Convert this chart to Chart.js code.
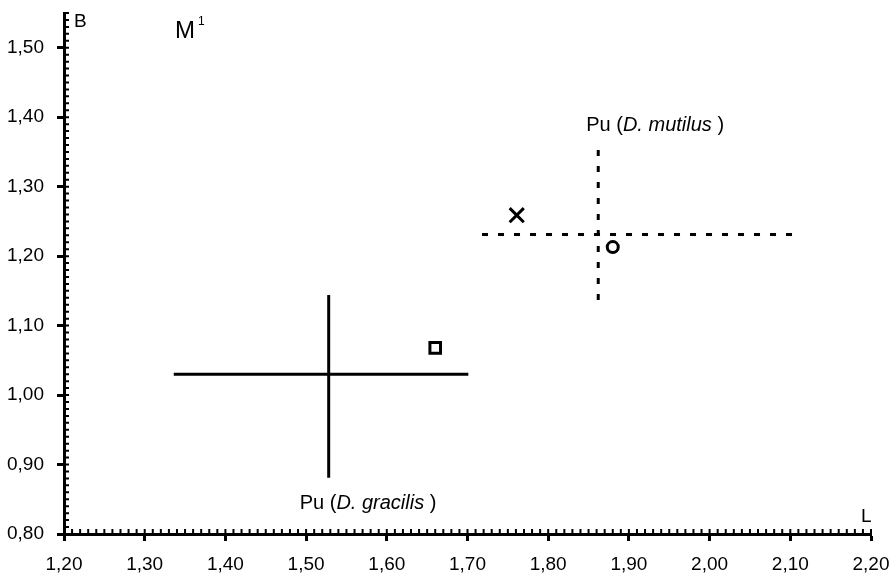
<!DOCTYPE html>
<html>
<head>
<meta charset="utf-8">
<script src="https://cdn.jsdelivr.net/npm/chart.js@4.4.1/dist/chart.umd.min.js"></script>
<style>
  body { margin: 0; background: #fff; }
  #wrap { width: 894px; height: 575px; }
</style>
</head>
<body>
<div id="wrap"><canvas id="m1"></canvas></div>
<script>
// ranges of the two reference samples (L = length, B = breadth)
var crossNames = ["D. gracilis", "D. mutilus"];
var crossMeanL = [1.528, 1.862];
var crossMeanB = [1.030, 1.231];
var crossMinL = [1.336, 1.718];
var crossMaxL = [1.701, 2.108];
var crossMinB = [0.881, 1.137];
var crossMaxB = [1.144, 1.364];

// single specimens: square, x, circle
var pointL = [1.660, 1.761, 1.880];
var pointB = [1.068, 1.259, 1.213];

var xTicks = [1.2, 1.3, 1.4, 1.5, 1.6, 1.7, 1.8, 1.9, 2.0, 2.1, 2.2];
var yTicks = [0.8, 0.9, 1.0, 1.1, 1.2, 1.3, 1.4, 1.5];

var FONT = "'Liberation Sans', Arial, Helvetica, sans-serif";
var crossDash = [[], [6, 10]];

var datasets = [];
for (var i = 0; i < crossNames.length; i++) {
  datasets.push({
    data: [{x: crossMinL[i], y: crossMeanB[i]}, {x: crossMaxL[i], y: crossMeanB[i]}],
    showLine: true, borderColor: "#000", borderWidth: 3, borderDash: crossDash[i],
    borderCapStyle: "butt", pointRadius: 0
  });
  datasets.push({
    data: [{x: crossMeanL[i], y: crossMinB[i]}, {x: crossMeanL[i], y: crossMaxB[i]}],
    showLine: true, borderColor: "#000", borderWidth: 3, borderDash: crossDash[i],
    borderCapStyle: "butt", pointRadius: 0
  });
}
datasets.push({
  data: pointL.map(function (l, k) { return {x: l, y: pointB[k]}; }),
  showLine: false,
  pointStyle: ["rect", "crossRot", "circle"],
  pointRadius: [7.5, 10, 5.5],
  pointBorderWidth: 3,
  pointBorderColor: "#000",
  pointBackgroundColor: "#fff"
});

function fmt(v) { return v.toFixed(2).replace(".", ","); }

// small inner ticks + labels drawn on top
var extras = {
  id: "extras",
  afterDraw: function (chart) {
    var ctx = chart.ctx;
    var xs = chart.scales.x, ys = chart.scales.y;
    var area = chart.chartArea;
    ctx.save();
    ctx.strokeStyle = "#000";
    ctx.lineWidth = 2;
    ctx.beginPath();
    for (var v = 0; v <= 100; v++) {
      var px = xs.getPixelForValue(1.2 + v * 0.01);
      ctx.moveTo(px, area.bottom);
      ctx.lineTo(px, area.bottom - 5);
    }
    for (var w = 0; w <= 75; w++) {
      var py = ys.getPixelForValue(0.8 + w * 0.01);
      ctx.moveTo(area.left, py);
      ctx.lineTo(area.left + 5, py);
    }
    ctx.stroke();

    ctx.fillStyle = "#000";
    ctx.textBaseline = "alphabetic";
    ctx.font = "19px " + FONT;
    ctx.fillText("B", area.left + 10, 27);
    ctx.fillText("L", area.right - 10, area.bottom - 12);
    ctx.font = "24px " + FONT;
    ctx.fillText("M", 175, 38);
    ctx.font = "12px " + FONT;
    ctx.fillText("1", 198, 25);

    function label(name, x, y) {
      ctx.font = "20px " + FONT;
      ctx.fillText("Pu (", x, y);
      x += ctx.measureText("Pu (").width;
      ctx.font = "italic 20px " + FONT;
      ctx.fillText(name, x, y);
      x += ctx.measureText(name).width;
      ctx.font = "20px " + FONT;
      ctx.fillText(" )", x, y);
    }
    label(crossNames[0], xs.getPixelForValue(crossMeanL[0]) - 29, ys.getPixelForValue(crossMinB[0]) + 31);
    label(crossNames[1], xs.getPixelForValue(crossMeanL[1]) - 12, ys.getPixelForValue(crossMaxB[1]) - 11);
    ctx.restore();
  }
};

new Chart("m1", {
  type: "scatter",
  data: { datasets: datasets },
  options: {
    responsive: true,
    maintainAspectRatio: false,
    animation: false,
    layout: { padding: { top: 12, right: 23, left: 0, bottom: 0 } },
    plugins: { legend: { display: false }, tooltip: { enabled: false } },
    scales: {
      x: {
        min: 1.2, max: 2.2,
        afterBuildTicks: function (s) { s.ticks = xTicks.map(function (v) { return {value: v}; }); },
        afterFit: function (s) { s.height = 41; s.paddingLeft = 0; s.paddingRight = 0; },
        grid: { drawOnChartArea: false, drawTicks: true, tickLength: 7, tickWidth: 3, color: "#000" },
        border: { display: true, width: 3, color: "#000" },
        ticks: { color: "#000", padding: 12, maxRotation: 0, font: { family: FONT, size: 19 },
                 callback: function (v) { return fmt(v); } }
      },
      y: {
        min: 0.8, max: 1.55,
        afterBuildTicks: function (s) { s.ticks = yTicks.map(function (v) { return {value: v}; }); },
        afterFit: function (s) { s.width = 64; s.paddingTop = 0; s.paddingBottom = 0; },
        grid: { drawOnChartArea: false, drawTicks: true, tickLength: 7, tickWidth: 3, color: "#000" },
        border: { display: true, width: 3, color: "#000" },
        ticks: { color: "#000", padding: 13, font: { family: FONT, size: 19 },
                 callback: function (v) { return fmt(v); } }
      }
    }
  },
  plugins: [extras]
});
</script>
</body>
</html>
